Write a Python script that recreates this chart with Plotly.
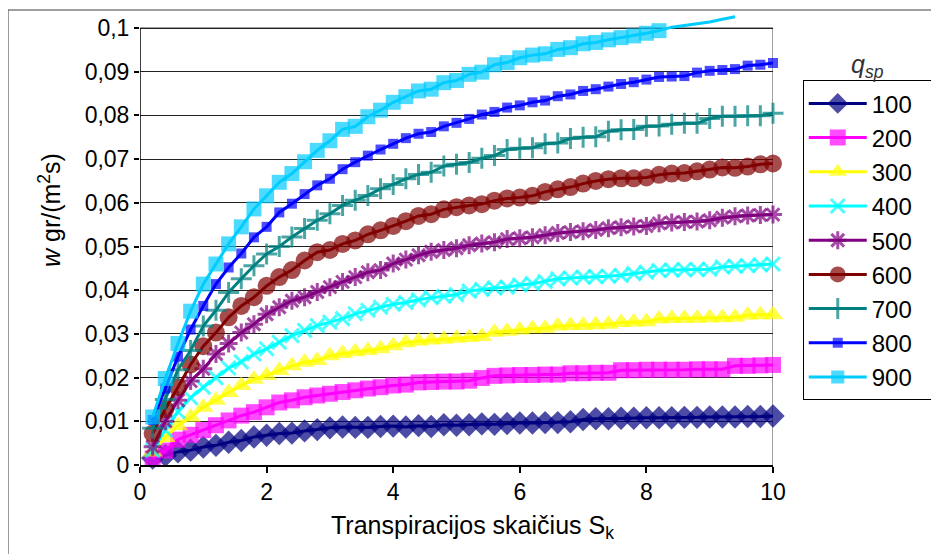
import plotly.graph_objects as go

# ---- data ----
x_vals = [0.2, 0.4, 0.6, 0.8, 1.0, 1.2, 1.4, 1.6, 1.8, 2.0,
          2.2, 2.4, 2.6, 2.8, 3.0, 3.2, 3.4, 3.6, 3.8, 4.0,
          4.2, 4.4, 4.6, 4.8, 5.0, 5.2, 5.4, 5.6, 5.8, 6.0,
          6.2, 6.4, 6.6, 6.8, 7.0, 7.2, 7.4, 7.6, 7.8, 8.0,
          8.2, 8.4, 8.6, 8.8, 9.0, 9.2, 9.4, 9.6, 9.8, 10.0]

s100 = [0.0016, 0.0022, 0.0030, 0.0034, 0.0041, 0.0045, 0.0052, 0.0056, 0.0064, 0.0068,
        0.0072, 0.0073, 0.0078, 0.0081, 0.0085, 0.0087, 0.0086, 0.0086, 0.0088, 0.0089,
        0.0087, 0.0090, 0.0088, 0.0092, 0.0091, 0.0092, 0.0094, 0.0093, 0.0095, 0.0096,
        0.0096, 0.0097, 0.0097, 0.0099, 0.0104, 0.0106, 0.0106, 0.0107, 0.0107, 0.0108,
        0.0108, 0.0108, 0.0109, 0.0109, 0.0110, 0.0110, 0.0110, 0.0111, 0.0111, 0.0112]
s200 = [0.0015, 0.0033, 0.0058, 0.0069, 0.0080, 0.0091, 0.0102, 0.0113, 0.0121, 0.0132,
        0.0143, 0.0148, 0.0155, 0.0159, 0.0163, 0.0167, 0.0171, 0.0175, 0.0178, 0.0182,
        0.0184, 0.0189, 0.0190, 0.0191, 0.0191, 0.0193, 0.0199, 0.0204, 0.0205, 0.0206,
        0.0206, 0.0207, 0.0207, 0.0210, 0.0210, 0.0211, 0.0211, 0.0217, 0.0217, 0.0218,
        0.0218, 0.0218, 0.0218, 0.0219, 0.0219, 0.0219, 0.0227, 0.0227, 0.0228, 0.0229]
s300 = [0.0030, 0.0063, 0.0090, 0.0109, 0.0132, 0.0148, 0.0166, 0.0182, 0.0196, 0.0205,
        0.0216, 0.0227, 0.0235, 0.0239, 0.0250, 0.0255, 0.0259, 0.0262, 0.0266, 0.0273,
        0.0280, 0.0283, 0.0286, 0.0288, 0.0290, 0.0292, 0.0294, 0.0304, 0.0306, 0.0309,
        0.0312, 0.0313, 0.0318, 0.0319, 0.0320, 0.0321, 0.0322, 0.0326, 0.0327, 0.0328,
        0.0334, 0.0335, 0.0336, 0.0336, 0.0337, 0.0337, 0.0338, 0.0343, 0.0344, 0.0344]
s400 = [0.0034, 0.0080, 0.0122, 0.0154, 0.0178, 0.0200, 0.0222, 0.0236, 0.0254, 0.0266,
        0.0281, 0.0296, 0.0308, 0.0319, 0.0327, 0.0335, 0.0346, 0.0354, 0.0361, 0.0368,
        0.0372, 0.0378, 0.0383, 0.0386, 0.0390, 0.0398, 0.0402, 0.0405, 0.0407, 0.0412,
        0.0415, 0.0420, 0.0426, 0.0428, 0.0430, 0.0431, 0.0432, 0.0434, 0.0438, 0.0441,
        0.0445, 0.0446, 0.0447, 0.0447, 0.0448, 0.0453, 0.0455, 0.0456, 0.0458, 0.0460]
s500 = [0.0042, 0.0100, 0.0148, 0.0192, 0.0220, 0.0254, 0.0278, 0.0303, 0.0322, 0.0345,
        0.0361, 0.0376, 0.0384, 0.0396, 0.0407, 0.0419, 0.0430, 0.0441, 0.0446, 0.0461,
        0.0470, 0.0480, 0.0488, 0.0492, 0.0496, 0.0503, 0.0507, 0.0510, 0.0517, 0.0519,
        0.0521, 0.0526, 0.0531, 0.0533, 0.0535, 0.0538, 0.0542, 0.0544, 0.0546, 0.0547,
        0.0553, 0.0555, 0.0556, 0.0557, 0.0560, 0.0566, 0.0569, 0.0571, 0.0572, 0.0573]
s600 = [0.0072, 0.0128, 0.0178, 0.0230, 0.0272, 0.0303, 0.0338, 0.0364, 0.0384, 0.0410,
        0.0430, 0.0446, 0.0468, 0.0487, 0.0492, 0.0506, 0.0514, 0.0528, 0.0537, 0.0547,
        0.0558, 0.0570, 0.0574, 0.0585, 0.0590, 0.0594, 0.0597, 0.0605, 0.0610, 0.0612,
        0.0616, 0.0625, 0.0631, 0.0636, 0.0644, 0.0650, 0.0654, 0.0656, 0.0656, 0.0658,
        0.0664, 0.0667, 0.0668, 0.0672, 0.0676, 0.0681, 0.0680, 0.0683, 0.0688, 0.0690]
s700 = [0.0084, 0.0150, 0.0218, 0.0262, 0.0318, 0.0354, 0.0395, 0.0426, 0.0456, 0.0483,
        0.0500, 0.0522, 0.0541, 0.0560, 0.0575, 0.0594, 0.0606, 0.0617, 0.0632, 0.0642,
        0.0655, 0.0665, 0.0670, 0.0684, 0.0688, 0.0692, 0.0702, 0.0708, 0.0722, 0.0725,
        0.0726, 0.0735, 0.0737, 0.0747, 0.0750, 0.0751, 0.0764, 0.0767, 0.0768, 0.0775,
        0.0776, 0.0780, 0.0782, 0.0782, 0.0793, 0.0798, 0.0798, 0.0799, 0.0799, 0.0805]
s800 = [0.0103, 0.0175, 0.0248, 0.0310, 0.0364, 0.0414, 0.0452, 0.0484, 0.0521, 0.0545,
        0.0578, 0.0598, 0.0620, 0.0640, 0.0655, 0.0677, 0.0693, 0.0708, 0.0722, 0.0735,
        0.0748, 0.0758, 0.0762, 0.0775, 0.0783, 0.0792, 0.0802, 0.0808, 0.0818, 0.0823,
        0.0830, 0.0834, 0.0844, 0.0848, 0.0856, 0.0860, 0.0866, 0.0872, 0.0876, 0.0882,
        0.0888, 0.0889, 0.0890, 0.0898, 0.0902, 0.0904, 0.0906, 0.0914, 0.0916, 0.0920]
s900 = [0.0110, 0.0198, 0.0278, 0.0352, 0.0414, 0.0460, 0.0506, 0.0545, 0.0586, 0.0616,
        0.0647, 0.0667, 0.0694, 0.0720, 0.0742, 0.0768, 0.0775, 0.0797, 0.0812, 0.0830,
        0.0843, 0.0856, 0.0860, 0.0875, 0.0880, 0.0894, 0.0899, 0.0916, 0.0921, 0.0932,
        0.0938, 0.0941, 0.0951, 0.0955, 0.0964, 0.0967, 0.0973, 0.0978, 0.0982, 0.0988,
        0.0994, 0.1002, 0.1006, 0.1010, 0.1014, 0.1020, 0.1026]

series_names = ["100", "200", "300", "400", "500", "600", "700", "800", "900"]
series_values = [s100, s200, s300, s400, s500, s600, s700, s800, s900]

x_ticks = [0, 2, 4, 6, 8, 10]
x_ticktext = ["0", "2", "4", "6", "8", "10"]
y_ticks = [0, 0.01, 0.02, 0.03, 0.04, 0.05, 0.06, 0.07, 0.08, 0.09, 0.1]
y_ticktext = ["0", "0,01", "0,02", "0,03", "0,04", "0,05", "0,06", "0,07", "0,08", "0,09", "0,1"]

# ---- styles ----
styles = {
    "100": dict(color="#000080", symbol="diamond", size=18, lw=0),
    "200": dict(color="#FF00FF", symbol="square", size=16, lw=0),
    "300": dict(color="#FFFF00", symbol="triangle-up", size=18, lw=0),
    "400": dict(color="#00FFFF", symbol="x-thin", size=14, lw=3),
    "500": dict(color="#800080", symbol="asterisk", size=15, lw=3),
    "600": dict(color="#800000", symbol="circle", size=18, lw=0),
    "700": dict(color="#008080", symbol="cross-thin", size=15, lw=3),
    "800": dict(color="#0000FF", symbol="square", size=10, lw=0),
    "900": dict(color="#00CCFF", symbol="square", size=15, lw=0),
}

YMAX = 0.1
fig = go.Figure()
for name, vals in zip(series_names, series_values):
    st = styles[name]
    xs = x_vals[:len(vals)]
    sizes = [st["size"] if v <= YMAX else 0 for v in vals]
    fig.add_trace(go.Scatter(
        x=xs, y=vals, name=name + "\u00a0\u00a0", mode="lines+markers",
        legendgroup=name,
        line=dict(color=st["color"], width=3),
        marker=dict(symbol=st["symbol"], size=sizes, color=st["color"],
                    line=dict(color=st["color"], width=st["lw"])),
        cliponaxis=False,
    ))

FONT = "Liberation Sans, Arial, sans-serif"
fig.update_layout(
    width=939, height=554,
    margin=dict(l=132, r=174, t=6, b=97, autoexpand=False),
    paper_bgcolor="white", plot_bgcolor="white",
    font=dict(family=FONT, size=23, color="black"),
    showlegend=True,
    legend=dict(x=1.047, y=0.853, xanchor="left", yanchor="top",
                bordercolor="black", borderwidth=1,
                font=dict(size=24), tracegroupgap=2.7, itemwidth=58,
                traceorder="normal"),
    xaxis=dict(range=[0, 10], tickvals=x_ticks, ticktext=x_ticktext,
               ticks="outside", ticklen=6, tickcolor="black", tickwidth=1.5,
               showline=True, linecolor="black", linewidth=1.5,
               showgrid=False, zeroline=False, tickfont=dict(size=23)),
    yaxis=dict(range=[0, 0.10321], tickvals=y_ticks, ticktext=y_ticktext,
               ticks="outside", ticklen=5, tickcolor="black", tickwidth=1.5,
               showline=False, showgrid=True, gridcolor="#202020", gridwidth=1,
               zeroline=False, tickfont=dict(size=23)),
    shapes=[
        dict(type="line", xref="x", yref="y", x0=0, x1=0, y0=0, y1=YMAX,
             line=dict(color="black", width=1.5), layer="above"),
        dict(type="line", xref="x", yref="y", x0=0, x1=10, y0=YMAX, y1=YMAX,
             line=dict(color="#808080", width=1.5), layer="below"),
        dict(type="line", xref="x", yref="y", x0=10, x1=10, y0=0, y1=YMAX,
             line=dict(color="#808080", width=1.5), layer="below"),
        dict(type="rect", xref="paper", yref="paper",
             x0=-0.2085, x1=1.272, y0=-0.2106, y1=1.0089,
             line=dict(color="#404040", width=1), fillcolor="rgba(0,0,0,0)"),
    ],
    annotations=[
        dict(text="<i>w</i> gr/(m<sup>2</sup>s)", xref="paper", yref="paper",
             x=-0.1422, y=0.5654, textangle=-90, showarrow=False,
             font=dict(size=25), xanchor="center", yanchor="middle"),
        dict(text="Transpiracijos skaičius S<sub>k</sub>", xref="paper", yref="paper",
             x=0.5245, y=-0.1375, showarrow=False,
             font=dict(size=25), xanchor="center", yanchor="middle"),
        dict(text="<i>q</i><sub><i>sp</i></sub>", xref="paper", yref="paper",
             x=1.1485, y=0.8847, showarrow=False,
             font=dict(size=25, color="#333333"), xanchor="center", yanchor="middle"),
    ],
)

fig.write_html("out.html")
